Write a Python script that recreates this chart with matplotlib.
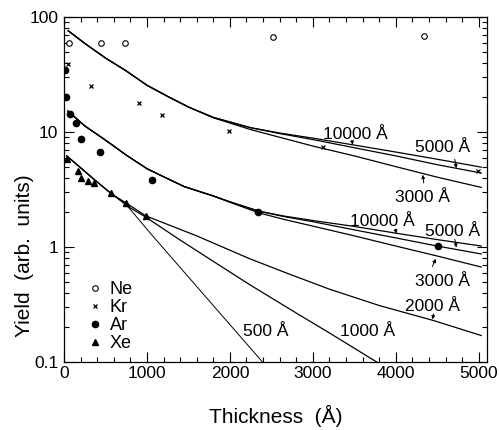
import matplotlib
matplotlib.use('Agg')
import matplotlib.pyplot as plt
from matplotlib.ticker import MultipleLocator, FixedLocator, FixedFormatter, LogLocator, NullFormatter

plt.rcParams['font.family'] = ['Liberation Sans', 'DejaVu Sans']

# measured points (thickness in A, yield in arb. units)
ne_x = [55, 446, 735, 2518, 4337]
ne_y = [60, 60, 60, 67, 68]
kr_x = [48, 325, 904, 1181, 1988, 3120, 4990]
kr_y = [39, 25, 17.9, 14, 10.2, 7.4, 4.6]
ar_x = [12, 24, 72, 145, 210, 434, 1060, 2337, 4506]
ar_y = [34.6, 20, 14.4, 12, 8.7, 6.7, 3.8, 2.03, 1.02]
xe_x = [36, 169, 205, 289, 361, 566, 747, 988]
xe_y = [5.8, 4.6, 4.0, 3.75, 3.6, 2.95, 2.4, 1.86]

# calculated curves, upper family
top_x = [50, 250, 500, 750, 1000, 1250, 1500, 1800, 2250, 2600, 3000, 3500, 4000, 4500, 5030]
top_10000 = [76, 59, 44, 34, 25.5, 20.4, 16.5, 13.4, 10.9, 9.8, 8.85, 7.7, 6.7, 5.8, 4.95]
top_5000 = [76, 59, 44, 34, 25.5, 20.4, 16.5, 13.4, 10.9, 9.7, 8.6, 7.3, 6.2, 5.2, 4.4]
top_3000 = [76, 59, 44, 34, 25.5, 20.4, 16.5, 13.3, 10.5, 9.0, 7.55, 6.2, 5.0, 4.05, 3.3]

# middle family
mid_x = [48, 250, 500, 750, 1000, 1150, 1450, 1800, 2000, 2350, 2650, 3000, 3500, 4000, 4500, 5030]
mid_10000 = [15.2, 11.3, 8.5, 6.3, 4.8, 4.25, 3.35, 2.78, 2.47, 2.05, 1.86, 1.70, 1.51, 1.32, 1.16, 1.02]
mid_5000 = [15.2, 11.3, 8.5, 6.3, 4.8, 4.25, 3.35, 2.78, 2.47, 2.05, 1.84, 1.66, 1.41, 1.20, 1.02, 0.87]
mid_3000 = [15.2, 11.3, 8.5, 6.3, 4.8, 4.25, 3.35, 2.78, 2.45, 1.98, 1.74, 1.52, 1.25, 1.02, 0.835, 0.67]

# lower family
low2000_x = [33, 190, 370, 580, 750, 990, 1280, 1600, 2240, 2720, 3200, 3800, 4450, 5030]
low2000_y = [6.2, 4.96, 3.83, 2.87, 2.41, 1.86, 1.54, 1.25, 0.79, 0.58, 0.43, 0.31, 0.23, 0.17]
low1000_x = [33, 190, 370, 580, 795, 990, 1400, 1920, 2240, 2840, 3200, 3800]
low1000_y = [6.2, 4.96, 3.83, 2.87, 2.2, 1.81, 1.15, 0.66, 0.47, 0.256, 0.179, 0.097]
low500_x = [33, 190, 370, 580, 700, 795, 1040, 1640, 2420]
low500_y = [6.2, 4.96, 3.83, 2.87, 2.51, 2.14, 1.32, 0.42, 0.095]

# curve labels: text, x, baseline y, pointer tail, pointer tip
labels = [
    ('10000 Å', 3518, 8.69, (3470, 8.5), (3482, 7.75)),
    ('5000 Å', 4563, 6.70, (4711, 5.8), (4731, 4.85)),
    ('3000 Å', 4325, 2.46, (4337, 3.6), (4325, 4.25)),
    ('10000 Å', 3843, 1.52, (3996, 1.43), (4008, 1.31)),
    ('5000 Å', 4681, 1.25, (4711, 1.17), (4731, 0.99)),
    ('3000 Å', 4566, 0.458, (4442, 0.68), (4482, 0.79)),
    ('2000 Å', 4446, 0.278, (4458, 0.262), (4440, 0.235)),
    ('1000 Å', 3657, 0.168, None, None),
    ('500 Å', 2434, 0.168, None, None),
]

fig = plt.figure(figsize=(4.99, 4.30), dpi=100)
ax = fig.add_axes([0.1283, 0.1581, 0.8477, 0.8023])

lw = 0.9
for y in (top_10000, top_5000, top_3000):
    ax.plot(top_x, y, color='black', lw=lw)
for y in (mid_10000, mid_5000, mid_3000):
    ax.plot(mid_x, y, color='black', lw=lw)
ax.plot(low2000_x, low2000_y, color='black', lw=lw)
ax.plot(low1000_x, low1000_y, color='black', lw=lw)
ax.plot(low500_x, low500_y, color='black', lw=0.7)

ax.plot(ne_x, ne_y, 'o', ms=4, mfc='white', mec='black', mew=0.8, ls='none', label='Ne')
ax.plot(kr_x, kr_y, 'x', ms=3.5, color='black', mew=0.9, ls='none', label='Kr')
ax.plot(ar_x, ar_y, 'o', ms=4.5, color='black', ls='none', label='Ar')
ax.plot(xe_x, xe_y, '^', ms=5, color='black', ls='none', label='Xe')

for txt, tx, ty, tail, tip in labels:
    ax.text(tx, ty, txt, ha='center', va='baseline', fontsize=12.5)
    if tail is not None:
        ax.annotate('', xy=tip, xytext=tail,
                    arrowprops=dict(arrowstyle='-|>', lw=0.7, color='black',
                                    mutation_scale=5, shrinkA=0, shrinkB=0))

ax.set_yscale('log')
ax.set_xlim(0, 5100)
ax.set_ylim(0.1, 100)

ax.xaxis.set_major_locator(MultipleLocator(1000))
ax.xaxis.set_minor_locator(MultipleLocator(200))
ax.yaxis.set_major_locator(FixedLocator([0.1, 1, 10, 100]))
ax.yaxis.set_major_formatter(FixedFormatter(['0.1', '1', '10', '100']))
ax.yaxis.set_minor_locator(LogLocator(base=10, subs=range(2, 10)))
ax.yaxis.set_minor_formatter(NullFormatter())

ax.tick_params(which='both', direction='in', top=True, right=True, width=0.8,
               labelsize=12.5)
ax.tick_params(which='major', length=7)
ax.tick_params(which='minor', length=3.5)
ax.tick_params(axis='x', pad=3)
ax.tick_params(axis='y', pad=4)
for s in ax.spines.values():
    s.set_linewidth(0.9)

ax.set_xlabel('Thickness  (Å)', fontsize=15)
ax.set_ylabel('Yield  (arb.  units)', fontsize=15)
ax.xaxis.set_label_coords(0.5, -0.125)
ax.yaxis.set_label_coords(-0.071, 0.307)

ax.legend(loc='lower left', bbox_to_anchor=(0.057, 0.029), frameon=False,
          fontsize=13, handlelength=0.8, handletextpad=0.4, labelspacing=0.05,
          borderpad=0, borderaxespad=0)

fig.savefig('out.png', dpi=100)
